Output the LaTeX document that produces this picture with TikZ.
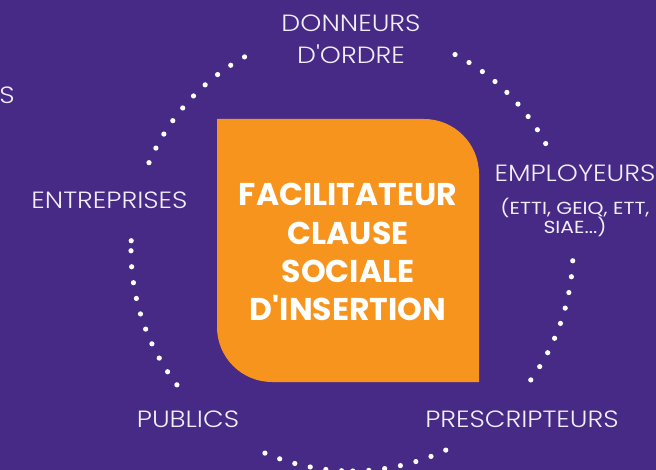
\documentclass[tikz,border=0pt]{standalone}
\usepackage{fontspec}
\setmainfont{Poppins}
\IfFontExistsTF{Poppins Light}{\newfontfamily\labfont{Poppins Light}[FakeStretch=1.14]}{\newfontfamily\labfont{Poppins}[FakeStretch=1.1]}
\newfontfamily\smlfont{Poppins}[FakeStretch=1.16]
\IfFontExistsTF{Poppins Bold}{\newfontfamily\bldfont{Poppins Bold}}{\newfontfamily\bldfont{Poppins}[FakeBold=2]}
\definecolor{bgc}{HTML}{472A86}
\definecolor{orng}{HTML}{F7941D}
\definecolor{labc}{HTML}{F1EEF8}
\tikzset{
  lbl/.style={text=labc, inner sep=0pt, anchor=base, font=\labfont\fontsize{23.5}{23.5}\selectfont},
  small/.style={text=labc, inner sep=0pt, anchor=base, font=\smlfont\fontsize{17.5}{17.5}\selectfont},
  title/.style={text=white, inner sep=0pt, anchor=base, font=\bldfont\fontsize{31.5}{31.5}\selectfont},
  dotc/.style={fill=white}
}
\begin{document}
\begin{tikzpicture}[x=1pt,y=-1pt]
\fill[bgc] (0,0) rectangle (656,470);
\useasboundingbox (0,0) rectangle (656,470);
% orange box
\fill[orng] (217,119) -- (424,119) .. controls (454.4,119) and (479,143.6) .. (479,174)
  -- (479,382) -- (272,382) .. controls (241.6,382) and (217,357.4) .. (217,327) -- cycle;
% dotted arcs
\foreach \i in {0,...,9} {\pgfmathsetmacro\a{119.1+4.18*\i}
  \fill[dotc] ({352+221*cos(\a)},{250-221*sin(\a)}) circle (2.6);}
\foreach \i in {0,...,8} {\pgfmathsetmacro\a{28.8+4.175*\i}
  \fill[dotc] ({352+221*cos(\a)},{250-221*sin(\a)}) circle (2.6);}
\foreach \i in {0,...,8} {\pgfmathsetmacro\a{-36+4.15*\i}
  \fill[dotc] ({352+221*cos(\a)},{250-221*sin(\a)}) circle (2.6);}
\foreach \i in {0,...,9} {\pgfmathsetmacro\a{180.2+4.155*\i}
  \fill[dotc] ({352+221*cos(\a)},{250-221*sin(\a)}) circle (2.6);}
\fill[dotc] ({352+221*cos(177.6)},{250-221*sin(177.6)}) circle (2.6);
\foreach \i in {0,...,5} {\pgfmathsetmacro\a{-113.2+4.1*\i}
  \fill[dotc] ({352+221*cos(\a)},{250-221*sin(\a)}) circle (2.6);}
\foreach \i in {0,...,6} {\pgfmathsetmacro\a{-89.8+4.15*\i}
  \fill[dotc] ({352+221*cos(\a)},{250-221*sin(\a)}) circle (2.6);}
% title
\node[title] (t1) at (348,206) {FACILITATEUR};
\node[title] (t2) at (348,244.5) {CLAUSE};
\node[title] (t3) at (348,283) {SOCIALE};
\node[title] (t4) at (348,321) {D'INSERTION};
% labels
\node[lbl] (don1) at (351,32) {DONNEURS};
\node[lbl] (don2) at (351,63.3) {D'ORDRE};
\node[lbl] (empl) at (575,182) {EMPLOYEURS};
\node[small] (empl2) at (575,214.3) {(ETTI, GEIQ, ETT,};
\node[small] (empl3) at (575,233.5) {SIAE...)};
\node[lbl] (entr) at (109.5,208.3) {ENTREPRISES};
\node[lbl] (publ) at (188,427.3) {PUBLICS};
\node[lbl] (pres) at (522,427.3) {PRESCRIPTEURS};
\node[lbl, anchor=base east] (cut) at (15,103.3) {S};
\end{tikzpicture}
\end{document}
